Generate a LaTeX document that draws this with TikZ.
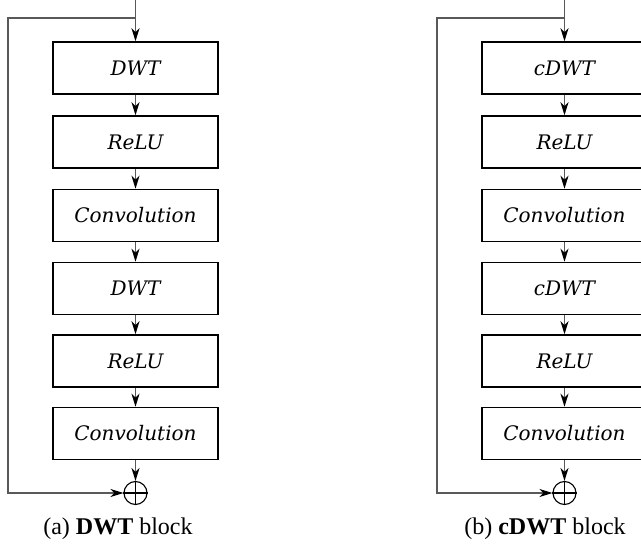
\documentclass[tikz,border=0pt]{standalone}
\usepackage{fontspec}
\setmainfont{Liberation Serif}
\newfontfamily\boxfont{DejaVu Serif}
\usetikzlibrary{arrows.meta}
\tikzset{
  stage/.style={draw=black, line width=1.5pt, minimum width=165pt, minimum height=52pt,
    inner sep=0pt, font=\boxfont\itshape\fontsize{20}{22}\selectfont},
  sumnode/.style={circle, draw=black, line width=1.1pt, minimum size=23pt, inner sep=0pt},
  flow/.style={draw=black!65, line width=1.2pt, -{Stealth[length=13pt, width=8pt, inset=4pt, black]}},
  caption/.style={font=\fontsize{24}{26}\selectfont}
}
\begin{document}
\begin{tikzpicture}[x=1pt, y=-1pt]
  \useasboundingbox (0,0) rectangle (641,546);

  % Block (a): DWT
  \coordinate (ain) at (135.5,0);
  \coordinate (asplit) at (135.5,18);
  \node[stage] (a1) at (135.5,68) {DWT};
  \node[stage] (a2) at (135.5,142) {ReLU};
  \node[stage] (a3) at (135.5,215.5) {Convolution};
  \node[stage] (a4) at (135.5,288.5) {DWT};
  \node[stage] (a5) at (135.5,361) {ReLU};
  \node[stage] (a6) at (135.5,433.5) {Convolution};
  \node[sumnode] (asum) at (135.5,493) {};
  \draw[line width=1.1pt] (asum.north) -- (asum.south) (asum.west) -- (asum.east);
  \coordinate (ac1) at (8,18);
  \coordinate (ac2) at (8,493);
  \draw[flow] (ain) -- (a1);
  \draw[flow] (a1) -- (a2);
  \draw[flow] (a2) -- (a3);
  \draw[flow] (a3) -- (a4);
  \draw[flow] (a4) -- (a5);
  \draw[flow] (a5) -- (a6);
  \draw[flow] (a6) -- (asum);
  \draw[flow] (asplit) -- (ac1) -- (ac2) -- (asum);
  \node[caption] (acap) at (118,529) {(a) \textbf{DWT} block};

  % Block (b): cDWT
  \coordinate (bin) at (564.5,0);
  \coordinate (bsplit) at (564.5,18);
  \node[stage] (b1) at (564.5,68) {cDWT};
  \node[stage] (b2) at (564.5,142) {ReLU};
  \node[stage] (b3) at (564.5,215.5) {Convolution};
  \node[stage] (b4) at (564.5,288.5) {cDWT};
  \node[stage] (b5) at (564.5,361) {ReLU};
  \node[stage] (b6) at (564.5,433.5) {Convolution};
  \node[sumnode] (bsum) at (564.5,493) {};
  \draw[line width=1.1pt] (bsum.north) -- (bsum.south) (bsum.west) -- (bsum.east);
  \coordinate (bc1) at (437,18);
  \coordinate (bc2) at (437,493);
  \draw[flow] (bin) -- (b1);
  \draw[flow] (b1) -- (b2);
  \draw[flow] (b2) -- (b3);
  \draw[flow] (b3) -- (b4);
  \draw[flow] (b4) -- (b5);
  \draw[flow] (b5) -- (b6);
  \draw[flow] (b6) -- (bsum);
  \draw[flow] (bsplit) -- (bc1) -- (bc2) -- (bsum);
  \node[caption] (bcap) at (545,529) {(b) \textbf{cDWT} block};
\end{tikzpicture}
\end{document}
